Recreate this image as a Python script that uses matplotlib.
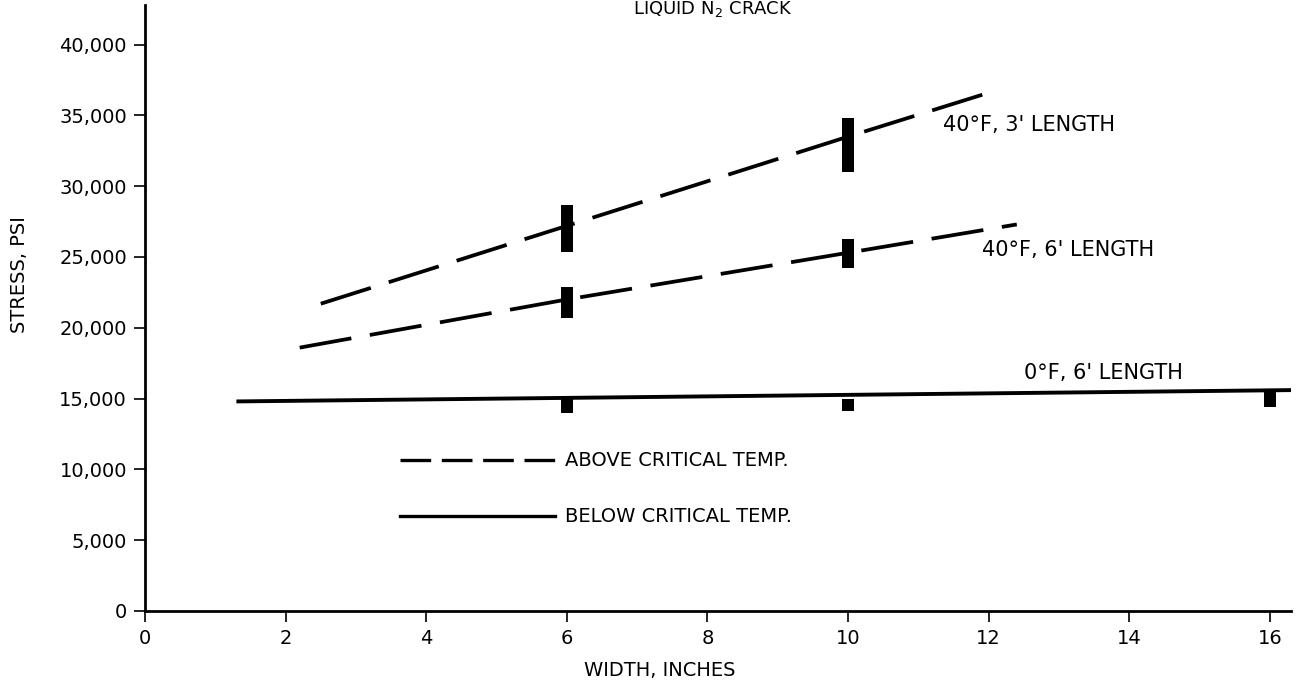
import matplotlib
matplotlib.use("Agg")
import matplotlib.pyplot as plt

# ---- data ----
w_3ft = [2.5, 6, 10, 12]
s_3ft = [21700, 27200, 33500, 36600]
w_6ft = [2.2, 6, 10, 12.4]
s_6ft = [18600, 22000, 25300, 27300]
w_0f = [1.3, 16.3]
s_0f = [14800, 15600]

bar_x_3ft = [6, 10]
bar_lo_3ft = [25350, 31000]
bar_hi_3ft = [28700, 34800]
bar_x_6ft = [6, 10]
bar_lo_6ft = [20700, 24200]
bar_hi_6ft = [22900, 26300]
bar_x_0f = [6, 10, 16]
bar_lo_0f = [14000, 14100, 14400]
bar_hi_0f = [15000, 15000, 15500]

x_ticks = [0, 2, 4, 6, 8, 10, 12, 14, 16]
x_ticklabels = ["0", "2", "4", "6", "8", "10", "12", "14", "16"]
y_ticks = [0, 5000, 10000, 15000, 20000, 25000, 30000, 35000, 40000]
y_ticklabels = ["0", "5,000", "10,000", "15,000", "20,000", "25,000",
                "30,000", "35,000", "40,000"]

plt.rcParams['font.family'] = ['DejaVu Sans']

fig = plt.figure(figsize=(12.96, 6.88), dpi=100)
ax = fig.add_axes([145/1296, 77/688, 1146/1296, 606/688])
ax.set_xlim(0, 16.3)
ax.set_ylim(0, 606/14.16*1000)

dash = (14, 5)
ax.plot(w_3ft, s_3ft, color='black', lw=2.7, dashes=dash, dash_capstyle='butt')
ax.plot(w_6ft, s_6ft, color='black', lw=2.7, dashes=dash, dash_capstyle='butt')
ax.plot(w_0f, s_0f, color='black', lw=2.8, solid_capstyle='butt')

bw = 0.18
for xs, lo, hi in [(bar_x_3ft, bar_lo_3ft, bar_hi_3ft),
                   (bar_x_6ft, bar_lo_6ft, bar_hi_6ft),
                   (bar_x_0f, bar_lo_0f, bar_hi_0f)]:
    ax.bar(xs, [h - l for h, l in zip(hi, lo)], bottom=lo, width=bw,
           color='black', zorder=3)

# curve labels
lab_kw = dict(fontsize=15, color='black', va='center', ha='left')
ax.text(11.35, 34300, "40°F, 3' LENGTH", **lab_kw)
ax.text(11.9, 25500, "40°F, 6' LENGTH", **lab_kw)
ax.text(12.5, 16800, "0°F, 6' LENGTH", **lab_kw)

# legend (drawn as annotation)
leg_kw = dict(fontsize=14, color='black', va='center', ha='left')
ax.plot([3.63, 5.83], [10650, 10650], color='black', lw=2.4,
        dashes=(9.2, 3.2), dash_capstyle='butt')
ax.plot([3.63, 5.83], [6700, 6700], color='black', lw=2.4)
ax.text(5.98, 10650, "ABOVE CRITICAL TEMP.", **leg_kw)
ax.text(5.98, 6700, "BELOW CRITICAL TEMP.", **leg_kw)

# axes styling
for s in ['top', 'right']:
    ax.spines[s].set_visible(False)
for s in ['left', 'bottom']:
    ax.spines[s].set_linewidth(2)
ax.set_xticks(x_ticks)
ax.set_xticklabels(x_ticklabels, fontsize=14)
ax.set_yticks(y_ticks)
ax.set_yticklabels(y_ticklabels, fontsize=14)
ax.tick_params(axis='both', direction='out', length=8, width=1.2, colors='black', pad=5)

ax.set_xlabel("WIDTH, INCHES", fontsize=14)
ax.xaxis.set_label_coords((660-145)/1146, -(670-611)/606, transform=ax.transAxes)
ax.set_ylabel("STRESS, PSI", fontsize=14)
ax.yaxis.set_label_coords(-(145-20)/1146, (611-275)/606, transform=ax.transAxes)
ax.xaxis.label.set_va('center')
ax.yaxis.label.set_va('center')

fig.text(713/1296, 1 - 14/688, "LIQUID N$_2$ CRACK", fontsize=13,
         ha='center', va='baseline')

fig.savefig("out.png", dpi=100, facecolor='white')
